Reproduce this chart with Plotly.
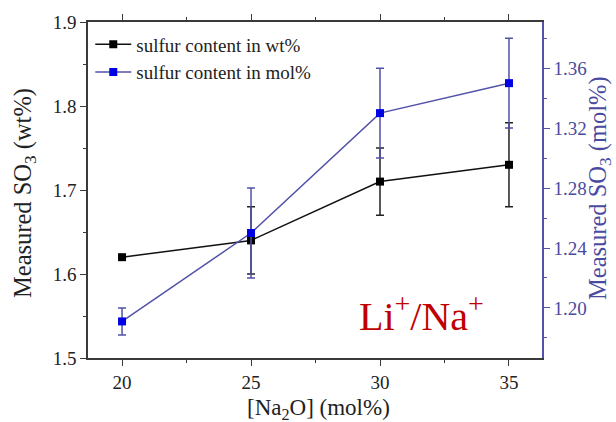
import plotly.graph_objects as go

na2o = [20, 25, 30, 35]
wt_vals = [1.62, 1.64, 1.71, 1.73]
wt_err = [0.0, 0.04, 0.04, 0.05]
mol_vals = [1.191, 1.25, 1.33, 1.35]
mol_err = [0.009, 0.03, 0.03, 0.03]

x_ticks = [20, 25, 30, 35]
left_ticks = [1.5, 1.6, 1.7, 1.8, 1.9]
right_ticks = [1.20, 1.24, 1.28, 1.32, 1.36]

FONT = "Liberation Serif"
BLUE_LINE = "#5252a8"
BLUE_MARK = "#0000e6"
BLUE_TEXT = "#4a4aa0"
AXIS = "#3a3a3a"

fig = go.Figure()
fig.add_trace(go.Scatter(
    x=na2o, y=wt_vals, name="sulfur content in wt%",
    mode="lines+markers",
    line=dict(color="#111111", width=1.5),
    marker=dict(symbol="square", size=8, color="#000000"),
    error_y=dict(type="data", array=wt_err, visible=True, color="#222222", thickness=1.5, width=4),
))
fig.add_trace(go.Scatter(
    x=na2o, y=mol_vals, name="sulfur content in mol%", yaxis="y2",
    mode="lines+markers",
    line=dict(color=BLUE_LINE, width=1.5),
    marker=dict(symbol="square", size=8, color=BLUE_MARK),
    error_y=dict(type="data", array=mol_err, visible=True, color=BLUE_LINE, thickness=1.5, width=4),
))

fig.update_layout(
    width=616, height=422,
    margin=dict(l=88, r=74, t=16, b=64),
    paper_bgcolor="white", plot_bgcolor="white",
    font=dict(family=FONT, size=19, color="#222222"),
    showlegend=True,
    legend=dict(x=0.005, y=0.99, xanchor="left", yanchor="top",
                bgcolor="rgba(0,0,0,0)", font=dict(family=FONT, size=19),
                tracegroupgap=0, itemwidth=36),
    xaxis=dict(range=[18.68, 36.28], tickvals=x_ticks, ticks="outside", ticklen=6,
               tickwidth=1.2, tickcolor=AXIS, showline=True, linecolor=AXIS, linewidth=1.5,
               mirror="ticks", showgrid=False, zeroline=False,
               minor=dict(dtick=2.5, tick0=20, ticks="outside", ticklen=3, tickcolor=AXIS),
               tickfont=dict(family=FONT, size=19, color="#222222")),
    yaxis=dict(range=[1.5, 1.9], tickvals=left_ticks, ticktext=[f"{v:.1f}" for v in left_ticks],
               ticks="outside", ticklen=6, tickwidth=1.2, tickcolor=AXIS,
               showline=True, linecolor=AXIS, linewidth=1.5, showgrid=False, zeroline=False,
               minor=dict(dtick=0.05, tick0=1.5, ticks="outside", ticklen=3, tickcolor=AXIS),
               tickfont=dict(family=FONT, size=19, color="#222222")),
    yaxis2=dict(range=[1.1666, 1.3908], overlaying="y", side="right",
                tickvals=right_ticks, ticktext=[f"{v:.2f}" for v in right_ticks],
                ticks="outside", ticklen=6, tickwidth=1.2, tickcolor=BLUE_LINE,
                showline=True, linecolor=BLUE_LINE, linewidth=1.5, showgrid=False, zeroline=False,
                minor=dict(dtick=0.02, tick0=1.18, ticks="outside", ticklen=3, tickcolor=BLUE_LINE),
                tickfont=dict(family=FONT, size=19, color=BLUE_TEXT)),
    annotations=[
        dict(text="Measured SO<sub>3</sub> (wt%)", xref="paper", yref="paper", x=0, y=0.491,
             xshift=-64, textangle=-90, showarrow=False, xanchor="center", yanchor="middle",
             font=dict(family=FONT, size=24.5, color="#222222")),
        dict(text="Measured SO<sub>3</sub> (mol%)", xref="paper", yref="paper", x=1, y=0.506,
             xshift=58, textangle=-90, showarrow=False, xanchor="center", yanchor="middle",
             font=dict(family=FONT, size=24.5, color=BLUE_TEXT)),
        dict(text="[Na<sub>2</sub>O] (mol%)", xref="paper", yref="paper", x=0.5, y=0,
             yshift=-51, xshift=3, showarrow=False, xanchor="center", yanchor="middle",
             font=dict(family=FONT, size=23, color="#222222")),
        dict(text="Li<sup>+</sup>/Na<sup>+</sup>", xref="paper", yref="paper",
             x=(421 - 88) / 454, y=(358 - 313) / 342, showarrow=False,
             xanchor="center", yanchor="middle",
             font=dict(family=FONT, size=40, color="#c00000")),
    ],
)

fig.write_html("out.html", config={"displayModeBar": False},
               post_script="document.body.style.margin='0';")
